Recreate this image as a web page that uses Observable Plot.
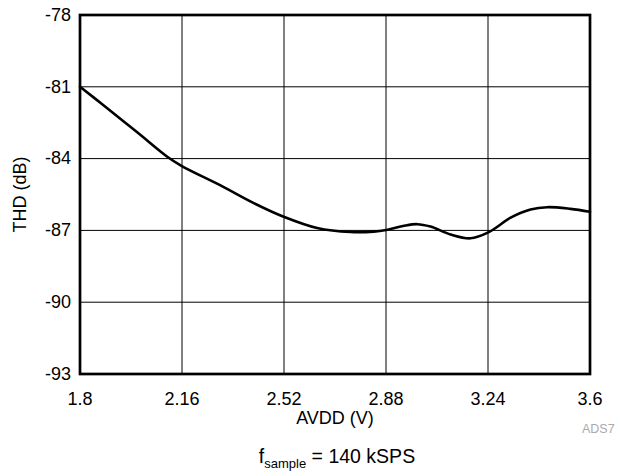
<!DOCTYPE html>
<html>
<head>
<meta charset="utf-8">
<script src="https://cdn.jsdelivr.net/npm/d3@7"></script>
<script src="https://cdn.jsdelivr.net/npm/@observablehq/plot@0.6"></script>
<style>
  body { margin: 0; background: #fff; font-family: "Liberation Sans", Arial, sans-serif; }
  #wrap { position: relative; width: 620px; height: 474px; }
  #wrap svg { position: absolute; left: 0; top: 0; }
  #note { position: absolute; left: 582px; top: 423px; font-size: 12.5px; line-height: 12px; color: #aaa; white-space: nowrap; }
  #cap { position: absolute; left: 0; width: 674px; top: 446px; text-align: center; font-size: 19.5px; line-height: 20px; color: #000; }
  #cap sub { font-size: 13px; vertical-align: -5px; line-height: 0; }
</style>
</head>
<body>
<div id="wrap"></div>
<script>
const avdd = [1.8, 1.884, 2.002, 2.108, 2.158, 2.296, 2.41, 2.519, 2.637, 2.755, 2.837, 2.881, 2.94, 2.99, 3.037, 3.108, 3.178, 3.243, 3.32, 3.39, 3.449, 3.531, 3.6];
const thd  = [-81.0, -81.78, -82.9, -83.92, -84.3, -85.12, -85.84, -86.43, -86.9, -87.07, -87.05, -86.98, -86.82, -86.74, -86.84, -87.17, -87.33, -87.07, -86.47, -86.13, -86.03, -86.1, -86.22];
const xTicks = [1.8, 2.16, 2.52, 2.88, 3.24, 3.6];
const yTicks = [-93, -90, -87, -84, -81, -78];

const data = avdd.map((v, i) => ({x: v, y: thd[i]}));

const chart = Plot.plot({
  width: 620,
  height: 440,
  marginLeft: 79.5,
  marginRight: 30.5,
  marginTop: 14.5,
  marginBottom: 66.5,
  style: {fontFamily: "Liberation Sans, Arial, sans-serif", fontSize: "18px", color: "#000", background: "#fff", overflow: "visible"},
  x: {domain: [1.8, 3.6]},
  y: {domain: [-93, -78]},
  marks: [
    Plot.gridX(xTicks, {stroke: "#000", strokeOpacity: 1, strokeWidth: 1}),
    Plot.gridY(yTicks, {stroke: "#000", strokeOpacity: 1, strokeWidth: 1}),
    Plot.axisX(xTicks, {tickSize: 0, tickPadding: 18, tickFormat: d => String(d), fontSize: 18,
      label: "AVDD (V)", labelAnchor: "center", labelArrow: "none", labelOffset: 50}),
    Plot.axisY(yTicks, {tickSize: 0, tickPadding: 9, tickFormat: d => String(d), fontSize: 18,
      label: "THD (dB)", labelAnchor: "center", labelArrow: "none", labelOffset: 67}),
    Plot.line(data, {x: "x", y: "y", curve: "catmull-rom", stroke: "#000", strokeWidth: 2.6}),
    Plot.frame({stroke: "#000", strokeWidth: 2.7})
  ]
});
const wrap = document.getElementById("wrap");
wrap.appendChild(chart);
const note = document.createElement("div");
note.id = "note"; note.textContent = "ADS7";
wrap.appendChild(note);
const cap = document.createElement("div");
cap.id = "cap"; cap.innerHTML = "f<sub>sample</sub> = 140 kSPS";
wrap.appendChild(cap);
</script>
</body>
</html>
